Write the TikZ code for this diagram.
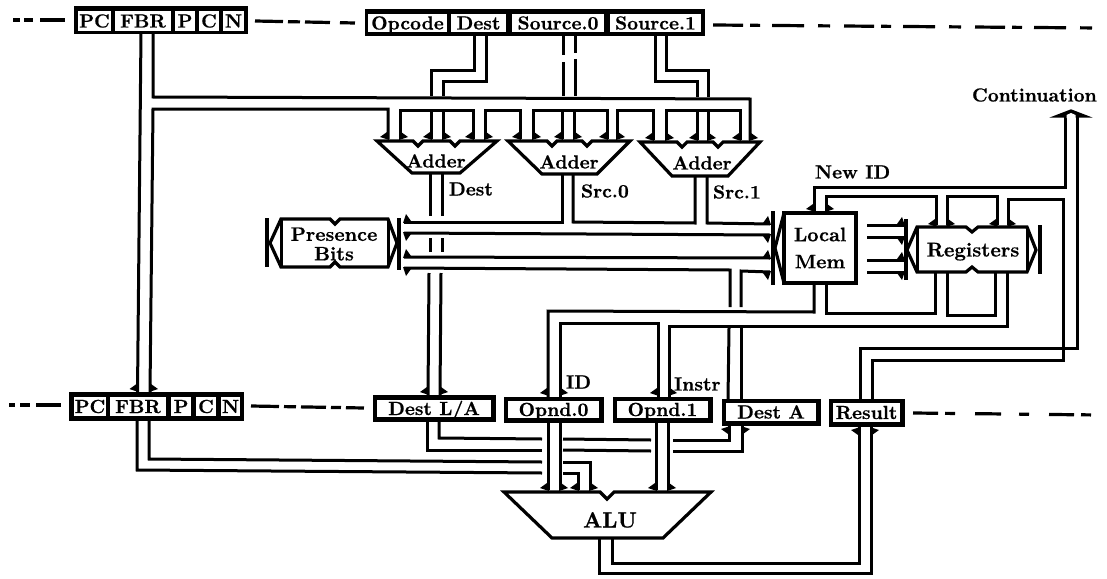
\documentclass[tikz,border=0pt]{standalone}
\usepackage{fontspec}
\newfontface\hv{lmroman10-bold.otf}[FakeBold=0.6]
\newcommand\hdD[3]{\fill (#1-8,#3-3)--(#1-1,#3-8)--(#1+1,#3)--cycle; \fill (#2+8,#3-3)--(#2+1,#3-8)--(#2-1,#3)--cycle;}
\newcommand\hdU[3]{\fill (#1-8,#3+3)--(#1-1,#3+8)--(#1+1,#3)--cycle; \fill (#2+8,#3+3)--(#2+1,#3+8)--(#2-1,#3)--cycle;}
\newcommand\hdR[3]{\fill (#3-3,#1-8)--(#3-8,#1-1)--(#3,#1+1)--cycle; \fill (#3-3,#2+8)--(#3-8,#2+1)--(#3,#2-1)--cycle;}
\newcommand\hdL[3]{\fill (#3+3,#1-8)--(#3+8,#1-1)--(#3,#1+1)--cycle; \fill (#3+3,#2+8)--(#3+8,#2+1)--(#3,#2-1)--cycle;}
% name, x1, y1, x2, y2, text
\newcommand\regbox[6]{\node[regcell,minimum width={(#4-#2)*1pt},minimum height={(#5-#3)*1pt}] (#1) at ({(#2+#4)/2},{(#3+#5)/2}) {#6};}
\newcommand\regback[5]{\node[regouter,minimum width={(#4-#2)*1pt},minimum height={(#5-#3)*1pt}] (#1) at ({(#2+#4)/2},{(#3+#5)/2}) {};}
\tikzset{
  wire/.style={line width=3pt,line join=miter,line cap=butt},
  shapeline/.style={line width=3.2pt,line join=miter},
  regcell/.style={draw=black,fill=white,line width=1.6pt,inner sep=0pt,outer sep=0pt,text height=13pt,text depth=0pt,font=\fontsize{19}{19}\hv},
  regouter/.style={draw=black,fill=black,line width=1pt,inner sep=0pt,outer sep=0pt},
  lbl/.style={inner sep=0pt,outer sep=0pt,text height=13pt,text depth=0pt,font=\fontsize{19}{19}\hv},
  biglbl/.style={inner sep=0pt,outer sep=0pt,align=center,font=\fontsize{19.5}{19.5}\hv},
  bar/.style={line width=3.2pt},
  dashline/.style={line width=3.2pt}
}
\begin{document}
\begin{tikzpicture}[x=1pt,y=-1pt]
\useasboundingbox (0,0) rectangle (1107,578);
\fill[white] (0,0) rectangle (1107,578);

% ---- top left register
\regback{tl}{74}{7}{247}{34}
\regbox{tPC}{77}{10}{112}{32}{PC}
\regbox{tFBR}{114}{10}{172}{32}{FBR}
\regbox{tP}{174}{10}{196}{32}{P}
\regbox{tC}{198}{10}{220}{32}{C}
\regbox{tN}{222}{10}{245}{32}{N}
% ---- instruction
\regback{ins}{365}{10}{704}{36}
\regbox{op}{367}{13}{448}{33}{Opcode}
\regbox{dst}{450}{13}{507}{33}{Dest}
\regbox{s0}{511}{13}{605}{33}{Source.0}
\regbox{s1}{609}{13}{702}{33}{Source.1}
% ---- bottom left register
\regback{bl}{69}{392}{243}{420}
\regbox{bPC}{73}{396}{107}{417}{PC}
\regbox{bFBR}{109}{396}{167}{417}{FBR}
\regbox{bP}{170}{396}{192}{417}{P}
\regbox{bC}{195}{396}{217}{417}{C}
\regbox{bN}{220}{396}{241}{417}{N}
% ---- pipeline latches
\regback{dla}{373}{395}{495}{421}
\regbox{dlai}{376}{399}{492}{418}{Dest L/A}
\regback{o0}{504}{397}{603}{422}
\regbox{o0i}{507}{400}{600}{419}{Opnd.0}
\regback{o1}{613}{397}{712}{422}
\regbox{o1i}{616}{400}{709}{419}{Opnd.1}
\regback{da}{722}{399}{820}{425}
\regbox{dai}{725}{402}{817}{422}{Dest A}
\regback{res}{829}{399}{904}{426}
\regbox{resi}{832}{402}{901}{423}{Result}

% ---- dashed continuation lines
\coordinate (d1a) at (13,20); \coordinate (d1b) at (65,20);
\coordinate (d2a) at (255,21); \coordinate (d2b) at (355,23);
\coordinate (d3a) at (713,25); \coordinate (d3b) at (1100,28);
\coordinate (d4a) at (9,405); \coordinate (d4b) at (61,405);
\coordinate (d5a) at (251,406); \coordinate (d5b) at (364,408);
\coordinate (d6a) at (913,413); \coordinate (d6b) at (1100,415);
\draw[dashline,dash pattern=on 7pt off 4pt on 9pt off 7pt on 25pt off 5pt] (d1a) -- (d1b);
\draw[dashline,dash pattern=on 28pt off 5pt on 12pt off 5pt on 25pt off 10pt on 15pt off 5pt] (d2a) -- (d2b);
\draw[dashline,dash pattern=on 30pt off 7pt on 10pt off 12pt on 32pt off 14pt on 12pt off 14pt] (d3a) -- (d3b);
\draw[dashline,dash pattern=on 6pt off 5pt on 10pt off 6pt on 25pt off 5pt] (d4a) -- (d4b);
\draw[dashline,dash pattern=on 28pt off 5pt on 12pt off 5pt on 25pt off 5pt on 10pt off 5pt on 18pt off 5pt] (d5a) -- (d5b);
\draw[dashline,dash pattern=on 25pt off 7pt on 10pt off 20pt on 26pt off 18pt on 10pt off 20pt] (d6a) -- (d6b);

% ---- adders
\draw[shapeline] (377,141) -- (413,141) -- (418,146) -- (423,141) -- (450,141) -- (455,146) -- (460,141) -- (497,141) -- (460,173) -- (412,173) -- cycle;
\node[lbl] (a1) at (436,161) {Adder};
\coordinate (a1t) at (436,139); \coordinate (a1b) at (436,173);
\draw[shapeline] (508,141) -- (547,141) -- (552,146) -- (557,141) -- (582,141) -- (587,146) -- (592,141) -- (630,141) -- (597,174) -- (542,174) -- cycle;
\node[lbl] (a2) at (569,162) {Adder};
\coordinate (a2t) at (569,139); \coordinate (a2b) at (569,174);
\draw[shapeline] (640,142) -- (677,142) -- (682,147) -- (687,142) -- (713,142) -- (718,147) -- (723,142) -- (760,142) -- (728,176) -- (672,176) -- cycle;
\node[lbl] (a3) at (702,163) {Adder};
\coordinate (a3t) at (702,140); \coordinate (a3b) at (702,176);

% ---- FBR to shared base bus
\draw[wire] (141,0 |- tFBR.south) -- (137.5,0 |- bl.north);
\draw[wire] (150,0 |- bl.north) -- (153,109) -- (388,109) -- (388,0 |- a1t);
\draw[wire] (153,0 |- tFBR.south) -- (153,97) -- (750,99) -- (750,0 |- a3t);
\draw[wire] (400,0 |- a1t) -- (400,110) -- (473,110) -- (473,0 |- a1t);
\draw[wire] (485,0 |- a1t) -- (485,110) -- (520,110) -- (520,0 |- a2t);
\draw[wire] (533,0 |- a2t) -- (533,110) -- (607,110) -- (607,0 |- a2t);
\draw[wire] (617,0 |- a2t) -- (617,110) -- (653,110) -- (653,0 |- a3t);
\draw[wire] (666,0 |- a3t) -- (666,110) -- (740,110) -- (740,0 |- a3t);
\draw[wire] (431,110) -- (431,0 |- a1t);
\draw[wire] (443,110) -- (443,0 |- a1t);
\draw[wire] (562,110) -- (562,0 |- a2t);
\draw[wire] (574,110) -- (574,0 |- a2t);
\draw[wire] (697,110) -- (697,0 |- a3t);
\draw[wire] (708,110) -- (708,0 |- a3t);
\hdD{388}{400}{140}\hdD{431}{443}{140}\hdD{473}{485}{140}
\hdD{520}{533}{140}\hdD{562}{574}{140}\hdD{607}{617}{140}
\hdD{653}{666}{141}\hdD{697}{708}{141}\hdD{740}{750}{141}
\hdD{137.5}{150}{392}

% ---- instruction fields to adders
\draw[wire] (474,0 |- dst.south) -- (474,70) -- (431,70) -- (431,96);
\draw[wire] (486,0 |- dst.south) -- (486,81) -- (443,81) -- (443,96);
\draw[wire] (563,0 |- s0.south) -- (563,55);
\draw[wire] (563,62) -- (563,96);
\draw[wire] (575,0 |- s0.south) -- (575,53);
\draw[wire] (575,59) -- (575,96);
\draw[wire] (655,0 |- s1.south) -- (655,81) -- (697,81) -- (697,97);
\draw[wire] (666,0 |- s1.south) -- (666,70) -- (708,70) -- (708,97);

% ---- presence bits
\draw[shapeline] (281,219) -- (330,219) -- (335,224) -- (340,219) -- (388,219) -- (397,243) -- (388,267) -- (340,267) -- (335,262) -- (330,267) -- (281,267) -- (270,243) -- cycle;
\draw[wire] (281,219) -- (281,267);
\draw[wire] (388,219) -- (388,267);
\draw[bar] (267,218) -- (267,267);
\draw[bar] (399,218) -- (399,270);
\node[biglbl] (pb) at (334,244) {Presence\\Bits};

% ---- local memory
\node[draw=black,line width=3.4pt,minimum width=72pt,minimum height=70pt,inner sep=0pt,outer sep=0pt,align=center,font=\fontsize{19.5}{27}\hv] (lm) at (820,248) {Local\\Mem};
\draw[shapeline] (lm.north west) -- (775,248) -- (lm.south west);
\draw[bar] (773,211) -- (773,285);

% ---- registers
\draw[shapeline] (917,227) -- (966,227) -- (972,232) -- (978,227) -- (1027,227) -- (1036,250) -- (1027,272) -- (978,272) -- (972,267) -- (966,272) -- (917,272) -- (907,250) -- cycle;
\draw[wire] (917,227) -- (917,272);
\draw[wire] (1027,227) -- (1027,272);
\draw[bar] (906,219) -- (906,280);
\draw[bar] (1040,225) -- (1040,274);
\node[lbl,font=\fontsize{20}{20}\hv] (rg) at (973,250) {Registers};
\coordinate (rgt) at (973,225); \coordinate (rgb) at (973,273);

% ---- adder outputs and the two address buses
\draw[wire] (430,0 |- a1b) -- (430,216);
\draw[wire] (442,0 |- a1b) -- (442,216);
\draw[wire] (430,238) -- (430,252);
\draw[wire] (442,238) -- (442,252);
\draw[wire] (429,273) -- (428,0 |- dla.north);
\draw[wire] (441,273) -- (440,0 |- dla.north);
\hdD{428}{440}{395}
\draw[wire] (404,222) -- (562,222) -- (562,0 |- a2b);
\draw[wire] (573,0 |- a2b) -- (573,222) -- (695,223) -- (695,0 |- a3b);
\draw[wire] (707,0 |- a3b) -- (707,223) -- (770,224);
\draw[wire] (404,233) -- (770,235);
\draw[wire] (404,257) -- (770,258);
\draw[wire] (404,268) -- (730,270) -- (730,307);
\draw[wire] (741,307) -- (741,271) -- (770,272);
\draw[wire] (729,328) -- (728,0 |- da.north);
\draw[wire] (741,328) -- (741,0 |- da.north);
\hdL{222}{233}{403}\hdL{257}{268}{403}
\hdR{224}{235}{771}\hdR{258}{272}{771}

% ---- local memory to registers
\coordinate (m1) at (867,225); \coordinate (m2) at (867,237);
\coordinate (m3) at (867,260); \coordinate (m4) at (867,272);
\draw[wire] (m1) -- (904,225);
\draw[wire] (m2) -- (904,237);
\draw[wire] (m3) -- (904,260);
\draw[wire] (m4) -- (904,272);
\hdR{225}{237}{905}\hdR{260}{272}{905}

% ---- write path above memory and registers
\draw[wire] (1065,113) -- (1065,187) -- (814,187) -- (814,0 |- lm.north);
\draw[wire] (826,0 |- lm.north) -- (826,196) -- (936,196) -- (936,0 |- rgt);
\draw[wire] (947,0 |- rgt) -- (947,196) -- (997,196) -- (997,0 |- rgt);
\draw[wire] (1008,0 |- rgt) -- (1008,199) -- (1063,199) -- (1063,360) -- (872,360) -- (872,0 |- res.north);
\draw[wire] (860,0 |- res.north) -- (860,348) -- (1077,348) -- (1077,113);
\hdD{814}{826}{212}\hdD{936}{947}{227}\hdD{997}{1008}{227}
\draw[shapeline,fill=black] (1058,116) -- (1071,111) -- (1084,116) -- cycle;
\fill[white] (1066.5,115) -- (1071,113) -- (1075.5,115) -- (1075.5,118) -- (1066.5,118) -- cycle;

% ---- read path below memory and registers
\draw[wire] (814,0 |- lm.south) -- (814,312) -- (548,311) -- (548,0 |- o0.north);
\draw[wire] (560,0 |- o0.north) -- (560,323) -- (658,323) -- (658,0 |- o1.north);
\draw[wire] (669,0 |- o1.north) -- (669,326) -- (1007,326) -- (1007,0 |- rgb);
\draw[wire] (826,0 |- lm.south) -- (826,313) -- (935,313) -- (935,0 |- rgb);
\draw[wire] (947,0 |- rgb) -- (947,315) -- (995,315) -- (995,0 |- rgb);
\hdD{548}{560}{396}\hdD{658}{669}{396}

% ---- ALU
\draw[shapeline] (504,492) -- (600,492) -- (607,499) -- (614,492) -- (711,492) -- (663,538) -- (552,538) -- cycle;
\node[lbl,font=\fontsize{22}{22}\hv,text height=15pt] (alu) at (610,520) {ALU};
\coordinate (alut) at (607,490); \coordinate (alub) at (607,538);
\draw[wire] (548,0 |- o0.south) -- (548,0 |- alut);
\draw[wire] (560,0 |- o0.south) -- (560,0 |- alut);
\draw[wire] (656,0 |- o1.south) -- (656,0 |- alut);
\draw[wire] (668,0 |- o1.south) -- (668,0 |- alut);
\hdD{548}{560}{491}\hdD{656}{668}{491}

% ---- latch to latch
\draw[wire] (137,0 |- bl.south) -- (137,470) -- (542,473);
\draw[wire] (149,0 |- bl.south) -- (149,459) -- (542,462);
\draw[wire] (563,462) -- (590,462) -- (590,0 |- alut);
\draw[wire] (563,473) -- (578,473) -- (578,0 |- alut);
\hdD{578}{590}{491}
\draw[wire] (427,0 |- dla.south) -- (427,450) -- (542,450);
\draw[wire] (439,0 |- dla.south) -- (439,438) -- (542,439);
\draw[wire] (563,439) -- (651,440);
\draw[wire] (563,450) -- (651,451);
\draw[wire] (673,440) -- (729,440) -- (729,0 |- da.south);
\draw[wire] (673,451) -- (742,451) -- (742,0 |- da.south);
\hdU{729}{742}{426}

% ---- ALU to result
\draw[wire] (612,0 |- alub) -- (612,563) -- (859,563) -- (859,0 |- res.south);
\draw[wire] (599,0 |- alub) -- (599,573) -- (871,573) -- (871,0 |- res.south);
\hdU{859}{871}{427}

% ---- labels
\node[lbl,anchor=west] (lDest) at (449,189) {Dest};
\node[lbl,anchor=west] (lS0) at (581,191) {Src.0};
\node[lbl,anchor=west] (lS1) at (713,192) {Src.1};
\node[lbl,anchor=west] (lNew) at (815,172) {New ID};
\node[lbl,anchor=west] (lCont) at (972,95) {Continuation};
\node[lbl,anchor=west] (lID) at (566,382) {ID};
\node[lbl,anchor=west] (lIn) at (674,384) {Instr};
\end{tikzpicture}
\end{document}
